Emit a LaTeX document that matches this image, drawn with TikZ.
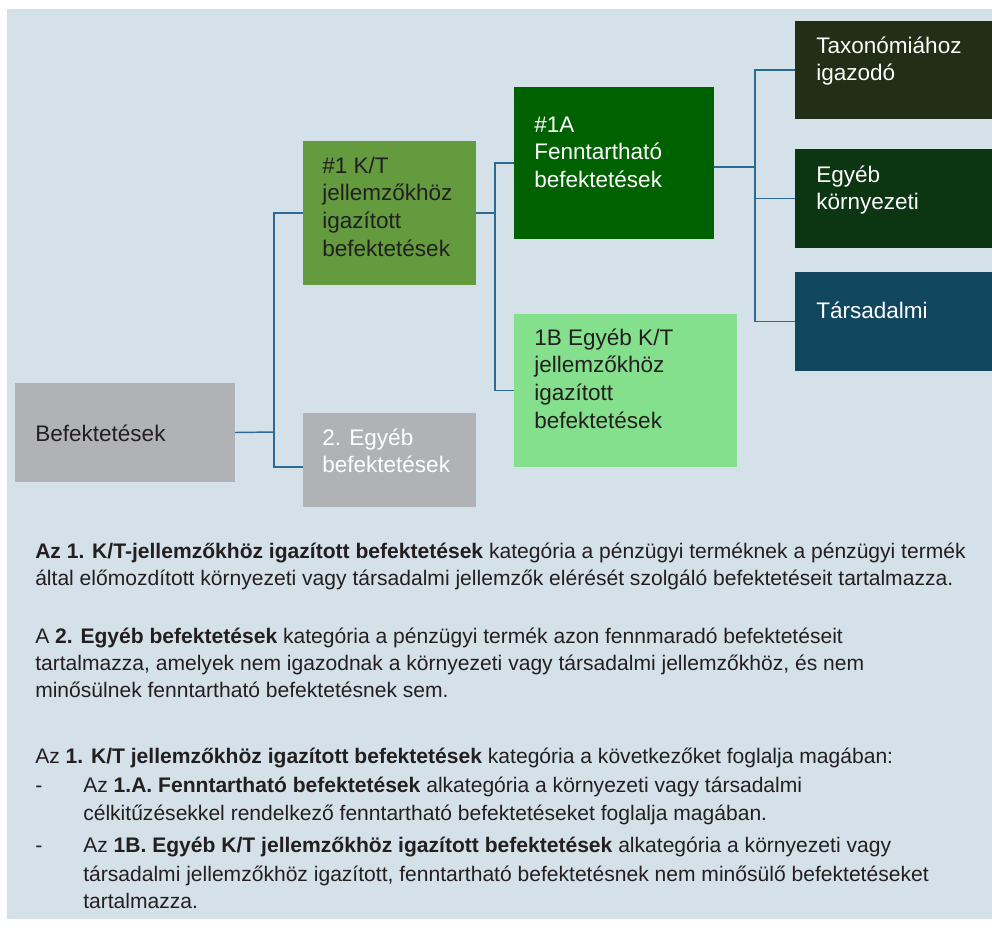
\documentclass[tikz,border=0pt]{standalone}
\usepackage{fontspec}
\setmainfont{Liberation Sans}
\usetikzlibrary{fit}
\definecolor{bgc}{HTML}{D4E1E9}
\definecolor{grayb}{HTML}{B1B2B6}
\definecolor{ktc}{HTML}{639B3E}
\definecolor{aonec}{HTML}{006100}
\definecolor{bonec}{HTML}{84E08C}
\definecolor{taxc}{HTML}{232E16}
\definecolor{egykc}{HTML}{0C3512}
\definecolor{tarsc}{HTML}{10475F}
\definecolor{connc}{HTML}{2D6A93}
\definecolor{txtc}{HTML}{231F20}
\newcommand\mylines[1]{\begin{tabular}[t]{@{}l@{}}#1\end{tabular}}
\begin{document}
\begin{tikzpicture}[x=0.75pt,y=-0.75pt,
  boxr/.style={inner sep=0pt, outer sep=0pt, draw=none},
  btext/.style={anchor=base west, inner sep=0pt, font=\fontsize{16.9}{20.8}\selectfont},
  body/.style={anchor=base west, inner sep=0pt, text=txtc, font=\fontsize{15.8}{20}\selectfont},
  conn/.style={draw=connc, line width=1.1pt}]
\useasboundingbox (0,0) rectangle (992,929);
\fill[bgc] (7,9) rectangle (992,919);
% boxes
\node[boxr, fill=grayb, fit={(15,383) (235,482)}] (bef) {};
\node[boxr, fill=grayb, fit={(303,413) (476,507)}] (eg2) {};
\node[boxr, fill=ktc, fit={(303,141) (476,285)}] (kt) {};
\node[boxr, fill=aonec, fit={(514,87) (714,239)}] (a1) {};
\node[boxr, fill=bonec, fit={(514,314) (737,467)}] (b1) {};
\node[boxr, fill=taxc, fit={(795,21) (992,119)}] (tax) {};
\node[boxr, fill=egykc, fit={(795,149) (992,248)}] (egyk) {};
\node[boxr, fill=tarsc, fit={(795,272) (992,371)}] (tars) {};
% box texts
\node[btext, text=txtc] (bef-t) at (35,441) {Befektetések};
\node[btext, text=white] (eg2-t) at (322,445) {\mylines{2. Egyéb\\befektetések}};
\node[btext, text=txtc] (kt-t) at (322,173) {\mylines{\#1 K/T\\jellemzőkhöz\\igazított\\befektetések}};
\node[btext, text=white] (a1-t) at (534,132) {\mylines{\#1A\\Fenntartható\\befektetések}};
\node[btext, text=txtc] (b1-t) at (534,345) {\mylines{1B Egyéb K/T\\jellemzőkhöz\\igazított\\befektetések}};
\node[btext, text=white] (tax-t) at (816,53) {\mylines{Taxonómiához\\igazodó}};
\node[btext, text=white] (egyk-t) at (816,182) {\mylines{Egyéb\\környezeti}};
\node[btext, text=white] (tars-t) at (816,318) {Társadalmi};
% connectors
\coordinate (j1) at (274,432);
\draw[conn] (bef.east) -- (j1);
\draw[conn] (j1) |- (kt.west);
\draw[conn] (j1) |- ([yshift=-5.25pt]eg2.west);
\coordinate (j2) at (495,213);
\draw[conn] (kt.east) -- (j2);
\draw[conn] (j2) |- (a1.west);
\draw[conn] (j2) |- (b1.west);
\coordinate (j3) at (755,167);
\draw[conn] ([yshift=-3pt]a1.east) -- (j3);
\draw[conn] (j3) |- (tax.west);
\draw[conn] (j3) |- (egyk.west);
\draw[conn] (j3) |- (tars.west);
% body text
\node[body] (p1a) at (35,558) {\textbf{Az 1. K/T-jellemzőkhöz igazított befektetések} kategória a pénzügyi terméknek a pénzügyi termék};
\node[body] (p1b) at (35,585) {által előmozdított környezeti vagy társadalmi jellemzők elérését szolgáló befektetéseit tartalmazza.};
\node[body] (p2a) at (35,643) {A \textbf{2. Egyéb befektetések} kategória a pénzügyi termék azon fennmaradó befektetéseit};
\node[body] (p2b) at (35,670) {tartalmazza, amelyek nem igazodnak a környezeti vagy társadalmi jellemzőkhöz, és nem};
\node[body] (p2c) at (35,697) {minősülnek fenntartható befektetésnek sem.};
\node[body] (p3a) at (35,763) {Az \textbf{1. K/T jellemzőkhöz igazított befektetések} kategória a következőket foglalja magában:};
\node[body] (d1) at (35,792) {-};
\node[body] (p3b) at (83,792) {Az \textbf{1.A. Fenntartható befektetések} alkategória a környezeti vagy társadalmi};
\node[body] (p3c) at (83,820) {célkitűzésekkel rendelkező fenntartható befektetéseket foglalja magában.};
\node[body] (d2) at (35,852) {-};
\node[body] (p3d) at (83,852) {Az \textbf{1B. Egyéb K/T jellemzőkhöz igazított befektetések} alkategória a környezeti vagy};
\node[body] (p3e) at (83,881) {társadalmi jellemzőkhöz igazított, fenntartható befektetésnek nem minősülő befektetéseket};
\node[body] (p3f) at (83,908) {tartalmazza.};
\end{tikzpicture}
\end{document}
